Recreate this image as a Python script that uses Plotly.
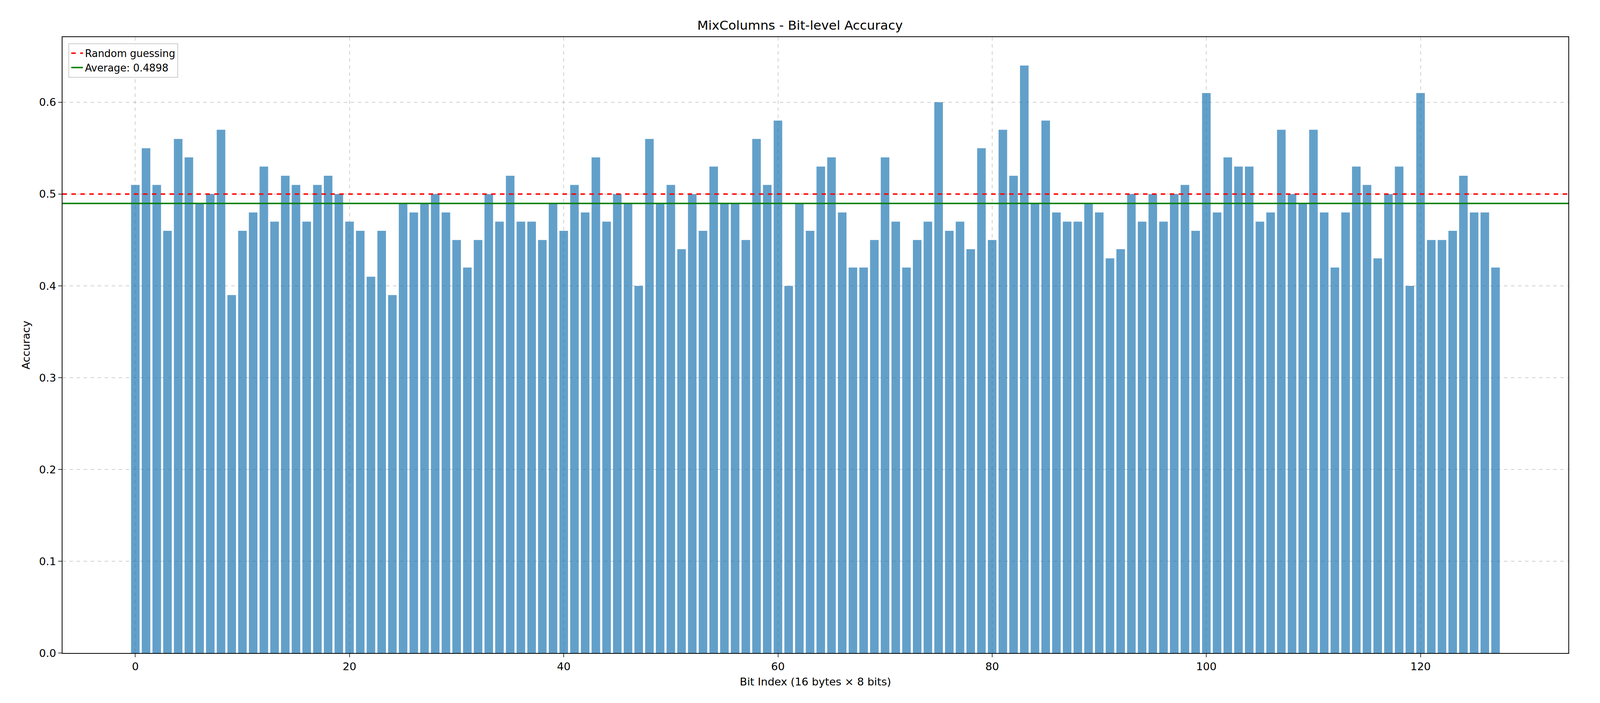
import plotly.graph_objects as go

# bit-level accuracy, one value per bit
bit_index = list(range(128))
accuracy = [
    0.51, 0.55, 0.51, 0.46, 0.56, 0.54, 0.49, 0.50, 0.57, 0.39,
    0.46, 0.48, 0.53, 0.47, 0.52, 0.51, 0.47, 0.51, 0.52, 0.50,
    0.47, 0.46, 0.41, 0.46, 0.39, 0.49, 0.48, 0.49, 0.50, 0.48,
    0.45, 0.42, 0.45, 0.50, 0.47, 0.52, 0.47, 0.47, 0.45, 0.49,
    0.46, 0.51, 0.48, 0.54, 0.47, 0.50, 0.49, 0.40, 0.56, 0.49,
    0.51, 0.44, 0.50, 0.46, 0.53, 0.49, 0.49, 0.45, 0.56, 0.51,
    0.58, 0.40, 0.49, 0.46, 0.53, 0.54, 0.48, 0.42, 0.42, 0.45,
    0.54, 0.47, 0.42, 0.45, 0.47, 0.60, 0.46, 0.47, 0.44, 0.55,
    0.45, 0.57, 0.52, 0.64, 0.49, 0.58, 0.48, 0.47, 0.47, 0.49,
    0.48, 0.43, 0.44, 0.50, 0.47, 0.50, 0.47, 0.50, 0.51, 0.46,
    0.61, 0.48, 0.54, 0.53, 0.53, 0.47, 0.48, 0.57, 0.50, 0.49,
    0.57, 0.48, 0.42, 0.48, 0.53, 0.51, 0.43, 0.50, 0.53, 0.40,
    0.61, 0.45, 0.45, 0.46, 0.52, 0.48, 0.48, 0.42,
]
random_level = 0.5
average_level = 0.4898

# the page is shown at a higher pixel ratio, so sizes are in CSS px
s = 0.762

fig = go.Figure()
fig.add_trace(go.Bar(x=bit_index, y=accuracy, width=0.8,
                     marker=dict(color="rgba(31,119,180,0.7)", line_width=0),
                     showlegend=False))
# horizontal reference lines, spanning the whole x range
xr = [-6.8, 133.8]
fig.add_trace(go.Scatter(x=xr, y=[random_level] * 2, mode="lines",
                         line=dict(color="red", dash="dash", width=5 * s),
                         name="Random guessing"))
fig.add_trace(go.Scatter(x=xr, y=[average_level] * 2, mode="lines",
                         line=dict(color="green", width=5 * s),
                         name=f"Average: {average_level:.4f}"))

axis_common = dict(showline=True, linecolor="black", linewidth=2 * s, mirror=True,
                   ticks="outside", ticklen=12 * s, tickwidth=2 * s,
                   gridcolor="rgba(176,176,176,0.6)", griddash="dash", gridwidth=2 * s,
                   zeroline=False, tickfont=dict(size=36 * s, color="black"))

fig.update_layout(
    autosize=True,
    plot_bgcolor="white", paper_bgcolor="white",
    font=dict(family="DejaVu Sans", color="black"),
    title=dict(text="MixColumns - Bit-level Accuracy", x=0.5, xanchor="center",
               y=0.975, font=dict(size=43 * s)),
    margin=dict(l=200 * s, r=96 * s, t=114 * s, b=178 * s),
    xaxis=dict(range=xr, tickvals=[0, 20, 40, 60, 80, 100, 120],
               title=dict(text="Bit Index (16 bytes × 8 bits)", font=dict(size=36 * s)),
               **axis_common),
    yaxis=dict(range=[0, 0.671], tickvals=[0, 0.1, 0.2, 0.3, 0.4, 0.5, 0.6],
               tickformat=".1f",
               title=dict(text="Accuracy", font=dict(size=36 * s)),
               **axis_common),
    legend=dict(x=0.004, y=0.99, xanchor="left", yanchor="top",
                bgcolor="rgba(255,255,255,0.8)", bordercolor="#cccccc", borderwidth=2,
                font=dict(size=34 * s)),
)

fig.write_html("out.html", default_width="100%", default_height="100vh")
